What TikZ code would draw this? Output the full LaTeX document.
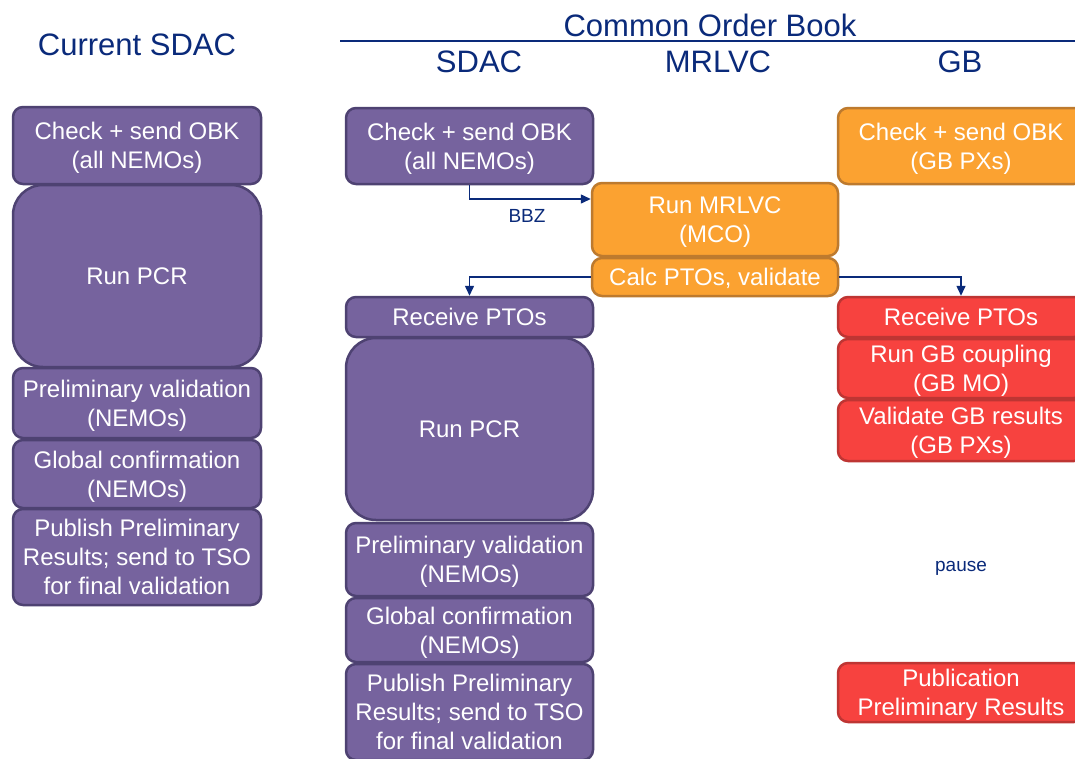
\documentclass[tikz,border=0pt]{standalone}
\usepackage{fontspec}
\setmainfont{Liberation Sans}
\usetikzlibrary{arrows.meta}
\definecolor{pfill}{HTML}{76639E}
\definecolor{pdraw}{HTML}{4E4272}
\definecolor{ofill}{HTML}{FBA231}
\definecolor{odraw}{HTML}{BD7A2E}
\definecolor{rfill}{HTML}{F7423F}
\definecolor{rdraw}{HTML}{BE3533}
\definecolor{navy}{HTML}{0A2A7A}
\tikzset{
  box/.style={rectangle, rounded corners=10pt, line width=2.5pt, text=white,
    align=center, inner sep=0pt, text depth=0pt,
    font=\fontsize{24}{29}\selectfont},
  pbox/.style={box, fill=pfill, draw=pdraw},
  obox/.style={box, fill=ofill, draw=odraw},
  rbox/.style={box, fill=rfill, draw=rdraw},
  bigr/.style={rounded corners=30pt},
  hdr/.style={text=navy, inner sep=0pt, font=\fontsize{31}{36}\selectfont},
  small/.style={text=navy, inner sep=0pt, font=\fontsize{19}{23}\selectfont},
  conn/.style={draw=navy, line width=1.5pt, -{Triangle[length=10pt,width=9pt]}},
}
\begin{document}
\begin{tikzpicture}[x=1pt,y=-1pt]
\clip (0,0) rectangle (1075,758);
\fill[white] (0,0) rectangle (1075,758);
% headers
\node[hdr] (hcur) at (137,45) {Current SDAC};
\node[hdr] (hcob) at (710,25) {Common Order Book};
\draw[navy, line width=1.5pt] (340,41) -- (1075,41);
\node[hdr] (hsdac) at (479,62) {SDAC};
\node[hdr] (hmrl) at (718,62) {MRLVC};
\node[hdr] (hgb) at (960,62) {GB};
% left column
\node[pbox, minimum width=248pt, minimum height=77pt] (l1) at (137,145.5) {Check + send OBK\\(all NEMOs)};
\node[pbox, bigr, minimum width=248pt, minimum height=182pt] (l2) at (137,276) {Run PCR};
\node[pbox, minimum width=248pt, minimum height=70pt] (l3) at (137,403) {Preliminary validation\\(NEMOs)};
\node[pbox, minimum width=248pt, minimum height=68pt] (l4) at (137,474) {Global confirmation\\(NEMOs)};
\node[pbox, minimum width=248pt, minimum height=96pt] (l5) at (137,557) {Publish Preliminary\\Results; send to TSO\\for final validation};
% SDAC column
\node[pbox, minimum width=247pt, minimum height=76pt] (s1) at (469.5,146) {Check + send OBK\\(all NEMOs)};
\node[pbox, minimum width=247pt, minimum height=40pt] (s2) at (469.5,317) {Receive PTOs};
\node[pbox, bigr, minimum width=247pt, minimum height=182pt] (s3) at (469.5,429) {Run PCR};
\node[pbox, minimum width=247pt, minimum height=73pt] (s4) at (469.5,559.5) {Preliminary validation\\(NEMOs)};
\node[pbox, minimum width=247pt, minimum height=64pt] (s5) at (469.5,630) {Global confirmation\\(NEMOs)};
\node[pbox, minimum width=247pt, minimum height=96pt] (s6) at (469.5,712) {Publish Preliminary\\Results; send to TSO\\for final validation};
% MRLVC column
\node[obox, minimum width=246pt, minimum height=73pt] (m1) at (715,219.5) {Run MRLVC\\(MCO)};
\node[obox, minimum width=246pt, minimum height=38pt] (m2) at (715,277) {Calc PTOs, validate};
% GB column
\node[obox, minimum width=246pt, minimum height=76pt] (g1) at (961,146) {Check + send OBK\\(GB PXs)};
\node[rbox, minimum width=246pt, minimum height=40pt] (g2) at (961,317) {Receive PTOs};
\node[rbox, minimum width=246pt, minimum height=59pt] (g3) at (961,368.5) {Run GB coupling\\(GB MO)};
\node[rbox, minimum width=246pt, minimum height=61pt] (g4) at (961,430.5) {Validate GB results\\(GB PXs)};
\node[small] (pause) at (961,568) {pause};
\node[rbox, minimum width=246pt, minimum height=59pt] (g5) at (961,692.5) {Publication\\Preliminary Results};
% connectors
\draw[conn] (s1.south) |- ([yshift=20.5pt]m1.west);
\node[small] (bbz) at (527,216) {BBZ};
\draw[conn] (m2.west) -| (s2.north);
\draw[conn] (m2.east) -| (g2.north);
\end{tikzpicture}
\end{document}
